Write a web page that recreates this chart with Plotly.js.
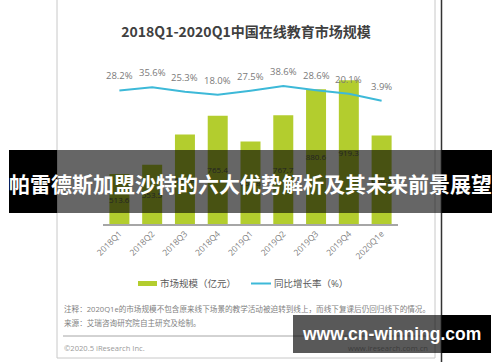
<!DOCTYPE html>
<html><head><meta charset="utf-8">
<script src="https://cdn.plot.ly/plotly-3.0.1.min.js"></script>
<style>html,body{margin:0;padding:0;background:#fff;}#chart{width:500px;height:362px;}</style>
</head><body><div id="chart"></div>
<script>
const categories = ["2018Q1","2018Q2","2018Q3","2018Q4","2019Q1","2019Q2","2019Q3","2019Q4","2020Q1e"];
const marketSize = [513.6, 553.5, 684.8, 765.4, 654.8, 767.7, 880.6, 919.3, 680.3];
const growthRate = [28.2, 35.6, 25.3, 18.0, 27.5, 38.6, 28.6, 20.1, 3.9];
const seriesNames = ["市场规模（亿元）", "同比增长率（%）"];
const chartTitle = "2018Q1-2020Q1中国在线教育市场规模";
const noteText = "注释：2020Q1e的市场规模不包含原来线下场景的教学活动被迫转到线上，而线下复课后仍回归线下的情况。";
const sourceText = "来源：艾瑞咨询研究院自主研究及绘制。";
const copyrightText = "©2020.5 iResearch Inc.";
const siteText = "www.iresearch.com.cn";
const bannerText = "帕雷德斯加盟沙特的六大优势解析及其未来前景展望";
const watermarkText = "www.cn-winning.com";

const L = 103, R = 102, T = 60, B = 138, W = 500, H = 362;
const pw = W - L - R, ph = H - T - B;
const px = v => (v - L) / pw;
const py = v => (H - B - v) / ph;

const CJK = "'Open Sans', 'Noto Sans CJK SC', sans-serif";
const green = "#B3CD2E", blue = "#3DB9D8";
const axisMin = 298;

const traces = [
  {
    type: "bar", x: categories, y: marketSize.map(v => v - axisMin), base: axisMin,
    name: seriesNames[0], marker: {color: green}, showlegend: false,
    text: marketSize.map(v => v.toFixed(1)), textposition: "inside",
    insidetextanchor: "middle", textangle: 0, constraintext: "none",
    insidetextfont: {size: 8, color: "#595959", family: CJK},
    hoverinfo: "none"
  },
  {
    type: "scatter", mode: "lines", x: categories, y: growthRate, yaxis: "y2",
    name: seriesNames[1], line: {color: blue, width: 2}, showlegend: false, hoverinfo: "none"
  }
];

const shapes = [
  {type: "rect", xref: "paper", yref: "paper", x0: px(57), x1: px(435), y0: py(-2), y1: py(358),
   line: {color: "#c8c8c8", width: 1}, fillcolor: "rgba(0,0,0,0)", layer: "below"},
  {type: "line", xref: "paper", yref: "paper", x0: px(441.5), x1: px(441.5), y0: py(0), y1: py(362),
   line: {color: "#333", width: 1.5}},
  {type: "rect", xref: "paper", yref: "paper", x0: px(138), x1: px(157), y0: py(286), y1: py(281),
   fillcolor: green, line: {width: 0}},
  {type: "line", xref: "paper", yref: "paper", x0: px(251), x1: px(271), y0: py(283.5), y1: py(283.5),
   line: {color: blue, width: 2}},
  {type: "line", xref: "paper", yref: "paper", x0: px(63), x1: px(430), y0: py(336), y1: py(336),
   line: {color: "#a6a6a6", width: 1}},
  {type: "rect", xref: "paper", yref: "paper", x0: px(9), x1: px(57), y0: py(213), y1: py(150),
   fillcolor: "#000", line: {width: 0}, layer: "above"},
  {type: "rect", xref: "paper", yref: "paper", x0: px(57), x1: px(442), y0: py(213), y1: py(150),
   fillcolor: "rgba(0,0,0,0.6)", line: {width: 0}, layer: "above"},
  {type: "rect", xref: "paper", yref: "paper", x0: px(442), x1: px(492), y0: py(213), y1: py(150),
   fillcolor: "#000", line: {width: 0}, layer: "above"},
  {type: "rect", xref: "paper", yref: "paper", x0: px(293), x1: px(442), y0: py(353), y1: py(315),
   fillcolor: "rgba(0,0,0,0.65)", line: {width: 0}, layer: "above"},
  {type: "rect", xref: "paper", yref: "paper", x0: px(442), x1: px(491), y0: py(353), y1: py(315),
   fillcolor: "#000", line: {width: 0}, layer: "above"}
];

const ann = (text, x, y, opts) => Object.assign({
  text, xref: "paper", yref: "paper", x: px(x), y: py(y), showarrow: false,
  xanchor: "left", yanchor: "middle", font: {size: 8, color: "#808080", family: CJK}
}, opts || {});

const rateLabels = categories.map((c, i) => ({
  text: growthRate[i].toFixed(1) + "%", xref: "x", yref: "y2", x: c, y: growthRate[i],
  yshift: 14.5, showarrow: false, xanchor: "center", yanchor: "middle",
  font: {size: 9.5, color: "#7a7a7a", family: CJK}
}));

const annotations = rateLabels.concat([
  ann(seriesNames[0], 158, 283.5, {font: {size: 9.5, color: "#595959", family: CJK}}),
  ann(seriesNames[1], 272, 283.5, {font: {size: 9.5, color: "#595959", family: CJK}}),
  ann(noteText, 62, 309, {font: {size: 7.6, color: "#7f7f7f", family: CJK}}),
  ann(sourceText, 62, 323, {font: {size: 7.6, color: "#7f7f7f", family: CJK}}),
  ann(copyrightText, 62, 348, {font: {size: 7.6, color: "#9a9a9a", family: CJK}}),
  ann(siteText, 430, 348, {xanchor: "right", font: {size: 7.6, color: "#3c3c3c", family: CJK}}),
  ann(bannerText, 250.5, 183, {xanchor: "center",
    font: {size: 21, color: "#fff", family: "'Noto Sans CJK SC', sans-serif", weight: "bold"}}),
  ann(watermarkText, 391, 334, {xanchor: "center",
    font: {size: 17.5, color: "#fff", family: "'Liberation Sans', Arial, sans-serif", weight: "bold"}})
]);

const layout = {
  width: W, height: H, autosize: false,
  margin: {l: L, r: R, t: T, b: B, pad: 0},
  paper_bgcolor: "#fff", plot_bgcolor: "rgba(0,0,0,0)",
  title: {text: chartTitle, x: 246 / W, xanchor: "center", y: 1 - 32 / H, yanchor: "middle",
    font: {size: 14, color: "#404040", family: "'Noto Sans CJK SC', sans-serif", weight: "bold"}},
  bargap: 0.39,
  xaxis: {type: "category", showline: true, linecolor: "#a6a6a6", linewidth: 1.5,
    ticks: "", tickangle: -45, tickfont: {size: 8.5, color: "#808080", family: CJK},
    showgrid: false, zeroline: false, fixedrange: true},
  yaxis: {range: [axisMin, 1006.5], visible: false, showgrid: false, zeroline: false, fixedrange: true},
  yaxis2: {range: [-287, 100], overlaying: "y", visible: false, showgrid: false, zeroline: false, fixedrange: true},
  showlegend: false,
  shapes, annotations
};

Plotly.newPlot("chart", traces, layout, {displayModeBar: false, staticPlot: true});
</script></body></html>
